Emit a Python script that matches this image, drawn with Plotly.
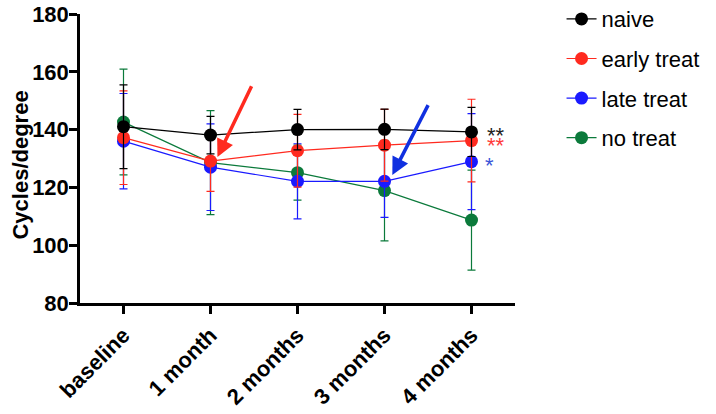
import plotly.graph_objects as go

categories = ["baseline", "1 month", "2 months", "3 months", "4 months"]

naive = [141.0, 138.1, 140.0, 140.1, 139.2]
naive_err = [14.5, 6.5, 7.0, 7.0, 8.5]
early_treat = [137.2, 129.1, 132.7, 134.6, 136.2]
early_err = [16.2, 10.5, 12.6, 12.4, 14.3]
late_treat = [136.0, 127.0, 122.1, 122.1, 128.9]
late_err = [16.5, 15.0, 13.0, 12.5, 16.6]
no_treat = [142.6, 128.6, 125.1, 118.9, 108.7]
no_err = [18.3, 18.0, 9.5, 17.4, 17.3]

y_ticks = [80, 100, 120, 140, 160, 180]
y_title = "Cycles/degree"

FONT = "Arial, Liberation Sans, sans-serif"

series = [
    ("no treat", no_treat, no_err, "#0b7a3b", 4),
    ("late treat", late_treat, late_err, "#1a1aff", 3),
    ("early treat", early_treat, early_err, "#ff2a1f", 2),
    ("naive", naive, naive_err, "#000000", 1),
]

fig = go.Figure()
for name, vals, err, col, rank in series:
    fig.add_trace(go.Scatter(
        x=categories, y=vals, name=name, mode="lines+markers",
        line=dict(color=col, width=1.2),
        marker=dict(color=col, size=13),
        error_y=dict(type="data", array=err, visible=True, color=col,
                     thickness=1.2, width=4),
        legendrank=rank, legendgroup=name,
    ))

# y-axis title
fig.add_annotation(x=-0.137, y=0.477, xref="paper", yref="paper", text=y_title,
                   textangle=-90, showarrow=False, xanchor="center", yanchor="middle",
                   font=dict(family=FONT, size=22, color="black", weight="bold"))

# significance asterisks
fig.add_annotation(x=4, y=naive[4], text="**", showarrow=False, xshift=24, yshift=-4,
                   font=dict(family=FONT, size=22, color="#222222"))
fig.add_annotation(x=4, y=early_treat[4], text="**", showarrow=False, xshift=24, yshift=-5,
                   font=dict(family=FONT, size=22, color="#ff3b3b"))
fig.add_annotation(x=4, y=late_treat[4], text="*", showarrow=False, xshift=18, yshift=-4,
                   font=dict(family=FONT, size=22, color="#3a55d8"))

# arrows
fig.add_annotation(x=1.08, y=130.5, ax=1.48, ay=155.5, axref="x", ayref="y",
                   xref="x", yref="y", text="", showarrow=True,
                   arrowhead=2, arrowsize=1, arrowwidth=3.5, arrowcolor="#ff2a1f")
fig.add_annotation(x=3.09, y=124.3, ax=3.51, ay=149.0, axref="x", ayref="y",
                   xref="x", yref="y", text="", showarrow=True,
                   arrowhead=2, arrowsize=1, arrowwidth=3.5, arrowcolor="#1030e0")

fig.update_layout(
    width=716, height=414,
    margin=dict(l=80, r=201, t=14, b=111, autoexpand=False),
    paper_bgcolor="white", plot_bgcolor="white",
    font=dict(family=FONT, color="black"),
    showlegend=True,
    legend=dict(x=1.107, y=1.055, xanchor="left", yanchor="top",
                font=dict(family=FONT, size=22, color="black"),
                tracegroupgap=8, bgcolor="rgba(0,0,0,0)"),
    xaxis=dict(
        type="category", range=[-0.5, 4.5], automargin=False,
        showline=True, linecolor="black", linewidth=2.5,
        ticks="outside", ticklen=8, tickwidth=2.5, tickcolor="black",
        tickangle=-45, showgrid=False, zeroline=False,
        ticklabeloverflow="allow",
        tickfont=dict(family=FONT, size=22, color="black", weight="bold"),
    ),
    yaxis=dict(
        range=[80, 180], tickvals=y_ticks, automargin=False,
        showline=True, linecolor="black", linewidth=2.5,
        ticks="outside", ticklen=8, tickwidth=2.5, tickcolor="black",
        showgrid=False, zeroline=False, ticklabelstandoff=-4,
        ticklabeloverflow="allow",
        tickfont=dict(family=FONT, size=22, color="black", weight="bold"),
    ),
)

fig.write_html("out.html", config={"displayModeBar": False},
               post_script="document.body.style.margin='0px';")
